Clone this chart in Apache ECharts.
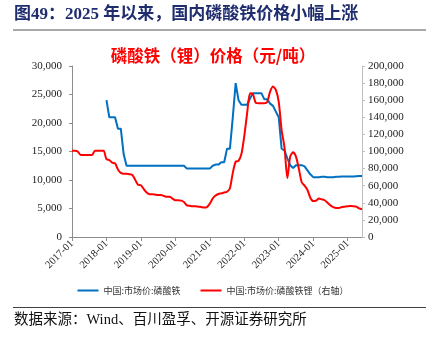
<!DOCTYPE html>
<html><head><meta charset="utf-8">
<script src="https://cdn.jsdelivr.net/npm/echarts@6/dist/echarts.min.js"></script>
<style>html,body{margin:0;padding:0;background:#fff}#c{width:426px;height:338px}</style>
</head><body><div id="c"></div>
<script>
// Month categories 2017-01 .. 2025-06
const startYear = 2017, endYear = 2025, endMonth = 6;
const months = [];
for (let y = startYear; y <= endYear; y++) {
  for (let m = 1; m <= 12; m++) {
    if (y === endYear && m > endMonth) break;
    months.push(y + '-' + String(m).padStart(2, '0'));
  }
}
// 中国:市场价:磷酸铁 (left axis, 元/吨), starts 2018-01
const ironPhosphate = [
  null,null,null,null,null,null,null,null,null,null,null,null,
  24000,21000,21000,21000,19000,19000,14500,12500,12500,12500,12500,12500,
  12500,12500,12500,12500,12500,12500,12500,12500,12500,12500,12500,12500,
  12500,12500,12500,12500,12000,12000,12000,12000,12000,12000,12000,12000,
  12000,12500,12700,12700,13100,13100,15500,15500,21000,27000,24000,23200,
  23200,23200,24300,25200,25200,25200,25200,24150,24150,23400,23000,22000,
  21000,15500,15200,13800,12600,12100,12600,12600,12600,12400,11700,11000,
  10500,10500,10500,10550,10550,10500,10500,10500,10550,10550,10600,10600,
  10600,10600,10600,10650,10700,10700
];
// 中国:市场价:磷酸铁锂 (right axis, 元/吨)
const lfp = [
  101000,101000,100000,96000,96000,96000,96000,96000,101000,101000,101000,101000,
  91000,90000,87000,86000,79000,75000,74000,74000,73500,72500,67000,61000,
  60500,56000,52000,50000,50000,49500,49000,49000,48000,47000,47000,45000,
  43000,43000,42500,41000,37000,36500,36000,36000,35500,35000,34500,35000,
  39000,45000,48500,50300,51000,52000,53000,57000,75000,88000,89000,97000,
  118000,145000,168000,167000,157000,156500,156500,156500,158000,170000,176000,172000,
  158000,125000,105000,69000,94000,99000,94000,80000,64000,60000,55000,46000,
  42000,42500,45000,44000,43000,40000,37000,35000,34000,34000,35000,35500,
  36000,36300,36000,35500,33500,32500
];
const leftTicks = {min: 0, max: 30000, interval: 5000};
const rightTicks = {min: 0, max: 200000, interval: 20000};
const seriesNames = ['中国:市场价:磷酸铁', '中国:市场价:磷酸铁锂（右轴）'];

const fmt = v => v.toLocaleString('en-US');
const isJan = (i, v) => String(v).endsWith('-01');
const serif = '"Liberation Serif","Noto Sans CJK SC",serif';
const cjk = '"Noto Sans CJK SC",sans-serif';

const chart = echarts.init(document.getElementById('c'), null, {renderer: 'canvas'});
chart.setOption({
  animation: false,
  backgroundColor: '#fff',
  title: {
    text: '磷酸铁（锂）价格（元/吨）',
    left: 'center', top: 42,
    textStyle: {color: '#ff0000', fontSize: 16.5, fontWeight: 'bold', fontFamily: cjk}
  },
  graphic: [
    {type: 'text', left: 14, top: 6, style: {text: '图49：2025 年以来，国内磷酸铁价格小幅上涨', fill: '#1f2d6e', font: 'bold 17px ' + serif}},
    {type: 'line', shape: {x1: 13, y1: 30, x2: 426, y2: 30}, style: {stroke: '#8c8c8c', lineWidth: 1.5}},
    {type: 'line', shape: {x1: 13, y1: 307.5, x2: 426, y2: 307.5}, style: {stroke: '#404040', lineWidth: 1.2}},
    {type: 'text', left: 14, top: 313, style: {text: '数据来源：Wind、百川盈孚、开源证券研究所', fill: '#111', font: '14.5px ' + serif}}
  ],
  legend: {
    top: 281, left: 'center',
    itemWidth: 21, itemHeight: 2, itemGap: 20,
    icon: 'rect',
    textStyle: {fontSize: 9, color: '#333', fontFamily: cjk},
    data: seriesNames
  },
  grid: {left: 72, right: 64, top: 66, bottom: 101, containLabel: false},
  xAxis: {
    type: 'category', data: months, boundaryGap: false,
    axisLine: {lineStyle: {color: '#8c8c8c'}},
    axisTick: {interval: isJan, length: 4, lineStyle: {color: '#8c8c8c'}},
    axisLabel: {interval: isJan, rotate: 45, fontSize: 10.5, color: '#222', fontFamily: serif, margin: 5},
    splitLine: {show: false}
  },
  yAxis: [
    {type: 'value', min: leftTicks.min, max: leftTicks.max, interval: leftTicks.interval,
     axisLine: {show: true, lineStyle: {color: '#8c8c8c'}},
     axisTick: {show: true, length: 3, lineStyle: {color: '#8c8c8c'}},
     axisLabel: {formatter: fmt, fontSize: 11, color: '#222', fontFamily: serif, margin: 10},
     splitLine: {show: false}},
    {type: 'value', min: rightTicks.min, max: rightTicks.max, interval: rightTicks.interval,
     axisLine: {show: true, lineStyle: {color: '#bfbfbf'}},
     axisTick: {show: true, length: 3, lineStyle: {color: '#bfbfbf'}},
     axisLabel: {formatter: fmt, fontSize: 11, color: '#222', fontFamily: serif, margin: 6},
     splitLine: {show: false}}
  ],
  series: [
    {name: seriesNames[0], type: 'line', yAxisIndex: 0, data: ironPhosphate, showSymbol: false,
     connectNulls: false, lineStyle: {color: '#0070c0', width: 2}, itemStyle: {color: '#0070c0'}},
    {name: seriesNames[1], type: 'line', yAxisIndex: 1, data: lfp, showSymbol: false, smooth: 0.25,
     lineStyle: {color: '#ff0000', width: 2}, itemStyle: {color: '#ff0000'}}
  ]
});
</script></body></html>
